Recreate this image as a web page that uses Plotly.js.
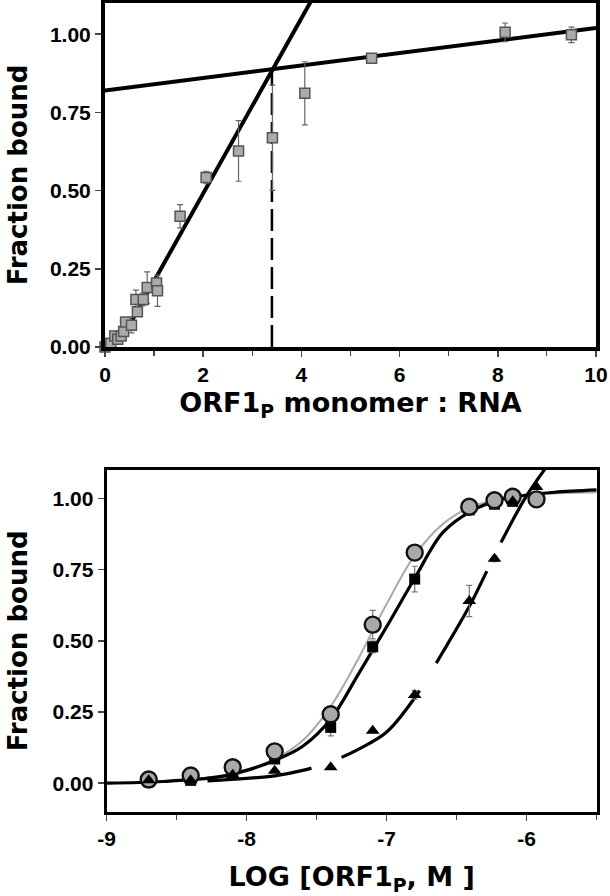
<!DOCTYPE html>
<html><head><meta charset="utf-8">
<script src="https://cdn.plot.ly/plotly-3.0.1.min.js"></script>
<style>html,body{margin:0;padding:0;background:#fff}#chart{width:610px;height:896px}</style>
</head><body><div id="chart"></div>
<script>
// ---------- Top panel: stoichiometric titration ----------
const ratioX = [0.0, 0.12, 0.2, 0.26, 0.33, 0.38, 0.42, 0.54, 0.63, 0.66, 0.78, 0.86, 1.05, 1.07, 1.53, 2.06, 2.72, 3.41, 4.07, 5.43, 8.15, 9.5];
const ratioY = [0.0, 0.012, 0.035, 0.025, 0.035, 0.05, 0.08, 0.07, 0.152, 0.113, 0.152, 0.19, 0.205, 0.18, 0.418, 0.542, 0.627, 0.669, 0.811, 0.923, 1.006, 0.998];
const ratioErr = [0, 0, 0.005, 0.01, 0.01, 0.01, 0.01, 0.025, 0.03, 0.015, 0.02, 0.05, 0.015, 0.05, 0.037, 0.02, 0.097, 0.168, 0.101, 0.008, 0.03, 0.025];
const riseLineX = [0.3, 4.3];
const riseLineY = [0.015, 1.135];
const plateauLineX = [0, 10];
const plateauLineY = [0.82, 1.02];
const breakX = [3.4, 3.4];
const breakY = [0, 0.888];
const topXTicks = [0, 2, 4, 6, 8, 10];
const yTicks = [0, 0.25, 0.5, 0.75, 1.0];
const yTickText = ['0.00', '0.25', '0.50', '0.75', '1.00'];

// ---------- Bottom panel: binding isotherms ----------
const logConc = [-8.7, -8.4, -8.1, -7.8, -7.4, -7.1, -6.8, -6.41, -6.23, -6.1, -5.93];
const circleY = [0.013, 0.027, 0.056, 0.112, 0.242, 0.557, 0.81, 0.971, 0.994, 1.006, 0.997];
const circleErr = [0, 0, 0, 0, 0, 0.05, 0, 0, 0, 0, 0];
const squareY = [0.005, 0.01, 0.035, 0.085, 0.196, 0.479, 0.717, 0.96, 0.98, 0.99, 1.0];
const squareErr = [0, 0, 0, 0, 0.03, 0.02, 0.045, 0, 0, 0, 0];
const triangleY = [0.01, 0.01, 0.03, 0.044, 0.056, 0.184, 0.31, 0.64, 0.788, 0.99, 1.04];
const triangleErr = [0, 0, 0, 0, 0, 0, 0.015, 0.055, 0.01, 0, 0];

const curveX = [-9.0, -8.6, -8.2, -8.0, -7.8, -7.6, -7.4, -7.2, -7.0, -6.8, -6.6, -6.4, -6.2, -6.0, -5.8, -5.5];
const grayCurveY = [0.0, 0.006, 0.025, 0.048, 0.085, 0.15, 0.27, 0.44, 0.63, 0.80, 0.91, 0.97, 0.998, 1.012, 1.018, 1.022];
const blackCurveY = [0.0, 0.006, 0.022, 0.045, 0.08, 0.13, 0.225, 0.385, 0.55, 0.72, 0.88, 0.955, 0.995, 1.012, 1.022, 1.03];
const dashCurveX = [-8.28, -8.0, -7.8, -7.6, -7.4, -7.2, -7.0, -6.8, -6.6, -6.4, -6.2, -6.0, -5.8];
const dashCurveY = [0.008, 0.017, 0.026, 0.045, 0.075, 0.12, 0.18, 0.30, 0.46, 0.63, 0.83, 1.01, 1.15];
const bottomXTicks = [-9, -8, -7, -6];
const bottomXTickText = ['-9', '-8', '-7', '-6'];

const tickFont = {family: 'Liberation Sans, Arial, sans-serif', size: 21, color: '#000', weight: 'bold'};
const titleFont = {family: 'DejaVu Sans, Verdana, sans-serif', size: 26, color: '#000', weight: 'bold'};
const xTitleFont = {family: 'DejaVu Sans, Verdana, sans-serif', size: 27, color: '#000', weight: 'bold'};
const errStyle = (arr, color) => ({type: 'data', array: arr, visible: true, color: color, thickness: 1.2, width: 3});

const traces = [
  {x: riseLineX, y: riseLineY, xaxis: 'x', yaxis: 'y', mode: 'lines', line: {color: '#000', width: 4}, hoverinfo: 'skip'},
  {x: plateauLineX, y: plateauLineY, xaxis: 'x', yaxis: 'y', mode: 'lines', line: {color: '#000', width: 4}, hoverinfo: 'skip'},
  {x: breakX, y: breakY, xaxis: 'x', yaxis: 'y', mode: 'lines', line: {color: '#000', width: 2.5, dash: '22px,7px'}, hoverinfo: 'skip'},
  {x: ratioX, y: ratioY, xaxis: 'x', yaxis: 'y', mode: 'markers', cliponaxis: false,
   error_y: errStyle(ratioErr, '#666'),
   marker: {symbol: 'square', size: 10, color: '#ababab', line: {color: '#555', width: 1.5}}},

  {x: curveX, y: grayCurveY, xaxis: 'x2', yaxis: 'y2', mode: 'lines', line: {color: '#aaaaaa', width: 2, shape: 'spline'}},
  {x: curveX, y: blackCurveY, xaxis: 'x2', yaxis: 'y2', mode: 'lines', line: {color: '#000', width: 3.2, shape: 'spline'}},
  {x: dashCurveX, y: dashCurveY, xaxis: 'x2', yaxis: 'y2', mode: 'lines', line: {color: '#000', width: 3.2, shape: 'spline', dash: '105px,32px'}},
  {x: logConc, y: squareY, xaxis: 'x2', yaxis: 'y2', mode: 'markers', cliponaxis: false,
   error_y: errStyle(squareErr, '#777'),
   marker: {symbol: 'square', size: 11, color: '#000'}},
  {x: logConc, y: circleY, xaxis: 'x2', yaxis: 'y2', mode: 'markers', cliponaxis: false,
   error_y: errStyle(circleErr, '#777'),
   marker: {symbol: 'circle', size: 16, color: '#a9a9a9', line: {color: '#111', width: 2.4}}},
  {x: logConc, y: triangleY, xaxis: 'x2', yaxis: 'y2', mode: 'markers', cliponaxis: false,
   error_y: errStyle(triangleErr, '#777'),
   marker: {symbol: 'triangle-up', size: 12, color: '#000'}}
];

const axisBase = {
  showgrid: false, zeroline: false, showline: true, linecolor: '#000', mirror: true,
  ticks: 'outside', ticklen: 6, tickwidth: 1.5, tickcolor: '#444', tickfont: tickFont
};

const layout = {
  width: 610, height: 896,
  margin: {l: 0, r: 0, t: 0, b: 0},
  paper_bgcolor: '#fff', plot_bgcolor: '#fff',
  showlegend: false,
  xaxis: Object.assign({}, axisBase, {
    domain: [0.1721, 0.977], anchor: 'y', range: [0, 10], tickvals: topXTicks, linewidth: 4,
    minor: {dtick: 1, ticks: 'outside', ticklen: 5, tickwidth: 1.2, tickcolor: '#444'},
    title: {text: 'ORF1<sub>P</sub> monomer : RNA', font: xTitleFont, standoff: 9}
  }),
  yaxis: Object.assign({}, axisBase, {
    domain: [0.6127, 0.9967], anchor: 'x', range: [0, 1.1], tickvals: yTicks, ticktext: yTickText, linewidth: 4,
    title: {text: 'Fraction bound', font: titleFont, standoff: 16}
  }),
  xaxis2: Object.assign({}, axisBase, {
    domain: [0.1749, 0.9782], anchor: 'y2', range: [-9, -5.5], tickvals: bottomXTicks, ticktext: bottomXTickText, linewidth: 3,
    minor: {dtick: 0.5, ticks: 'outside', ticklen: 5, tickwidth: 1.2, tickcolor: '#444'},
    title: {text: 'LOG [ORF1<sub>P</sub>, M ]', font: xTitleFont, standoff: 24}
  }),
  yaxis2: Object.assign({}, axisBase, {
    domain: [0.0941, 0.4754], anchor: 'x2', range: [-0.1, 1.1], tickvals: yTicks, ticktext: yTickText, linewidth: 3,
    title: {text: 'Fraction bound', font: titleFont, standoff: 18}
  })
};

Plotly.newPlot('chart', traces, layout, {displayModeBar: false, staticPlot: true});
</script>
</body></html>
